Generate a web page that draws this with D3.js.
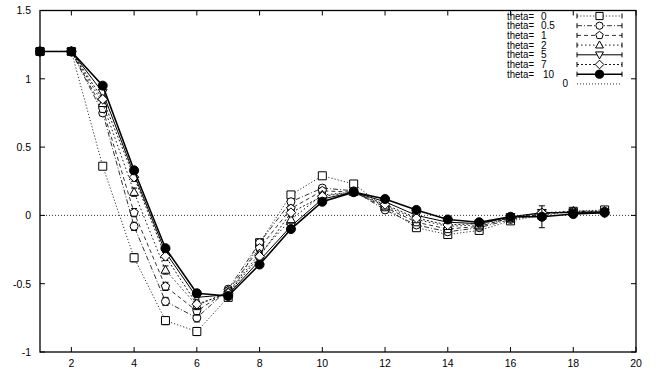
<!DOCTYPE html>
<html><head><meta charset="utf-8">
<script src="https://cdn.jsdelivr.net/npm/d3@7"></script>
<style>
html,body{margin:0;padding:0;background:#fff;}
svg{display:block;font-family:"Liberation Sans",Arial,Helvetica,sans-serif;}
</style></head><body>
<svg id="c" width="659" height="369"></svg>
<script>
const xs = [1,2,3,4,5,6,7,8,9,10,11,12,13,14,15,16,17,18,19];
const thetaLabels = ["0","0.5","1","2","5","7","10"];
const theta0  = [1.2,1.2,0.36,-0.31,-0.77,-0.85,-0.60,-0.20,0.15,0.29,0.23,0.06,-0.09,-0.14,-0.11,-0.04,0.00,0.03,0.04];
const theta05 = [1.2,1.2,0.75,-0.08,-0.63,-0.75,-0.54,-0.20,0.10,0.20,0.18,0.04,-0.07,-0.12,-0.09,-0.03,0.01,0.03,0.03];
const theta1  = [1.2,1.2,0.78,0.02,-0.52,-0.70,-0.55,-0.24,0.05,0.18,0.17,0.06,-0.05,-0.10,-0.08,-0.02,0.01,0.03,0.03];
const theta2  = [1.2,1.2,0.82,0.17,-0.40,-0.66,-0.56,-0.28,-0.03,0.15,0.17,0.07,-0.03,-0.08,-0.07,-0.02,0.02,0.03,0.03];
const theta5  = [1.2,1.2,0.90,0.30,-0.27,-0.60,-0.58,-0.33,-0.08,0.12,0.17,0.10,0.00,-0.05,-0.06,-0.01,0.02,0.02,0.02];
const theta7  = [1.2,1.2,0.85,0.28,-0.30,-0.65,-0.57,-0.30,0.02,0.14,0.17,0.08,-0.02,-0.07,-0.06,-0.02,0.02,0.02,0.02];
const theta10 = [1.2,1.2,0.95,0.33,-0.24,-0.57,-0.59,-0.36,-0.10,0.10,0.17,0.12,0.04,-0.03,-0.05,-0.01,-0.01,0.01,0.02];
const errSmall = [0,0,0.02,0.03,0.03,0.03,0.02,0.02,0.02,0.02,0.01,0.01,0.01,0.01,0.01,0.01,0.01,0.01,0.01];
const err10    = [0,0,0.01,0.01,0.01,0.01,0.01,0.01,0.01,0.01,0.01,0.01,0.01,0.01,0.01,0.01,0.08,0.01,0.01];
const xTicks = [2,4,6,8,10,12,14,16,18,20];
const yTicks = [-1,-0.5,0,0.5,1,1.5];
const yTickLabels = ["-1","-0.5","0","0.5","1","1.5"];

const series = [
  {name:thetaLabels[0], vals:theta0,  err:errSmall, sym:"square",   dash:"1.2,2",   w:0.8, fill:"#fff"},
  {name:thetaLabels[1], vals:theta05, err:errSmall, sym:"circle",   dash:"5,2,1,2", w:0.8, fill:"#fff"},
  {name:thetaLabels[2], vals:theta1,  err:errSmall, sym:"pentagon", dash:"4,3",     w:0.8, fill:"#fff"},
  {name:thetaLabels[3], vals:theta2,  err:errSmall, sym:"triangle", dash:"1.5,2.5", w:0.9, fill:"#fff"},
  {name:thetaLabels[4], vals:theta5,  err:errSmall, sym:"tridown",  dash:null,      w:1.0, fill:"#fff"},
  {name:thetaLabels[5], vals:theta7,  err:errSmall, sym:"diamond",  dash:"2,2",     w:0.9, fill:"#fff"},
  {name:thetaLabels[6], vals:theta10, err:err10,    sym:"fcircle",  dash:null,      w:1.6, fill:"#000"}
];

const L=40, R=636, T=10.5, B=352;
const x = d3.scaleLinear().domain([1,20]).range([L,R]);
const y = d3.scaleLinear().domain([-1,1.5]).range([B,T]);
const svg = d3.select("#c");

function symPath(type, k){
  const s=4.0*(k||1);
  switch(type){
    case "square": return `M${-s},${-s}H${s}V${s}H${-s}Z`;
    case "circle": return d3.arc()({innerRadius:0,outerRadius:s,startAngle:0,endAngle:2*Math.PI});
    case "fcircle": return d3.arc()({innerRadius:0,outerRadius:s+0.5,startAngle:0,endAngle:2*Math.PI});
    case "triangle": return `M0,${-s*1.15}L${s*1.1},${s*0.8}L${-s*1.1},${s*0.8}Z`;
    case "tridown": return `M0,${s*1.15}L${s*1.1},${-s*0.8}L${-s*1.1},${-s*0.8}Z`;
    case "diamond": return `M0,${-s*1.2}L${s*1.2},0L0,${s*1.2}L${-s*1.2},0Z`;
    case "pentagon": {
      const pts=d3.range(5).map(i=>{const a=-Math.PI/2+i*2*Math.PI/5; return [s*1.1*Math.cos(a), s*1.1*Math.sin(a)];});
      return "M"+pts.map(p=>p.join(",")).join("L")+"Z";
    }
  }
}

// axes ticks (inward, mirrored)
const g = svg.append("g");
const tl = 5;
xTicks.forEach(t=>{
  g.append("line").attr("x1",x(t)).attr("x2",x(t)).attr("y1",B).attr("y2",B-tl).attr("stroke","#000");
  g.append("line").attr("x1",x(t)).attr("x2",x(t)).attr("y1",T).attr("y2",T+tl).attr("stroke","#000");
  g.append("text").attr("x",x(t)).attr("y",B+15).attr("text-anchor","middle").attr("font-size",10.5).text(t);
});
yTicks.forEach((t,i)=>{
  g.append("line").attr("x1",L).attr("x2",L+tl).attr("y1",y(t)).attr("y2",y(t)).attr("stroke","#000");
  g.append("line").attr("x1",R).attr("x2",R-tl).attr("y1",y(t)).attr("y2",y(t)).attr("stroke","#000");
  g.append("text").attr("x",L-9).attr("y",y(t)+3.8).attr("text-anchor","end").attr("font-size",10.5).text(yTickLabels[i]);
});

// zero line
svg.append("line").attr("x1",L).attr("x2",R).attr("y1",y(0)).attr("y2",y(0))
  .attr("stroke","#000").attr("stroke-width",0.8).attr("stroke-dasharray","1,2");

const line = d3.line().x((d,i)=>x(xs[i])).y(d=>y(d));
series.forEach(s=>{
  const sg = svg.append("g");
  sg.append("path").attr("d",line(s.vals)).attr("fill","none").attr("stroke","#000")
    .attr("stroke-width",s.w).attr("stroke-dasharray",s.dash);
  s.vals.forEach((v,i)=>{
    const e=s.err[i];
    if(e>0){
      sg.append("line").attr("x1",x(xs[i])).attr("x2",x(xs[i])).attr("y1",y(v-e)).attr("y2",y(v+e)).attr("stroke","#000").attr("stroke-width",1);
      [v-e,v+e].forEach(vv=>sg.append("line").attr("x1",x(xs[i])-3).attr("x2",x(xs[i])+3).attr("y1",y(vv)).attr("y2",y(vv)).attr("stroke","#000").attr("stroke-width",1));
    }
    sg.append("path").attr("d",symPath(s.sym)).attr("transform",`translate(${x(xs[i])},${y(v)})`)
      .attr("fill",s.fill).attr("stroke","#000").attr("stroke-width",1);
  });
});

// legend
const lg = svg.append("g");
const fs = 10;
series.forEach((s,i)=>{
  const yy = 16 + i*9.7;
  lg.append("text").attr("x",507).attr("y",yy+3.5).attr("font-size",fs)
    .attr("textLength",27).attr("lengthAdjust","spacingAndGlyphs").text("theta=");
  lg.append("text").attr("x",s.name==="10"?543:541).attr("y",yy+3.5).attr("font-size",fs).text(s.name);
  lg.append("line").attr("x1",577).attr("x2",622).attr("y1",yy).attr("y2",yy).attr("stroke","#000")
    .attr("stroke-width",s.w).attr("stroke-dasharray",s.dash);
  [577,622].forEach(xx=>lg.append("line").attr("x1",xx).attr("x2",xx).attr("y1",yy-2.5).attr("y2",yy+2.5).attr("stroke","#000"));
  lg.append("path").attr("d",symPath(s.sym,0.9)).attr("transform",`translate(599.5,${yy})`)
    .attr("fill",s.fill).attr("stroke","#000").attr("stroke-width",1);
});
{
  const yy = 16 + 7*9.7;
  lg.append("text").attr("x",568).attr("y",yy+3.5).attr("text-anchor","end").attr("font-size",fs).text("0");
  lg.append("line").attr("x1",577).attr("x2",622).attr("y1",yy).attr("y2",yy).attr("stroke","#000")
    .attr("stroke-width",0.8).attr("stroke-dasharray","1,2");
}

// border
svg.append("rect").attr("x",L).attr("y",T).attr("width",R-L).attr("height",B-T)
  .attr("fill","none").attr("stroke","#000").attr("stroke-width",1.3);
</script></body></html>
